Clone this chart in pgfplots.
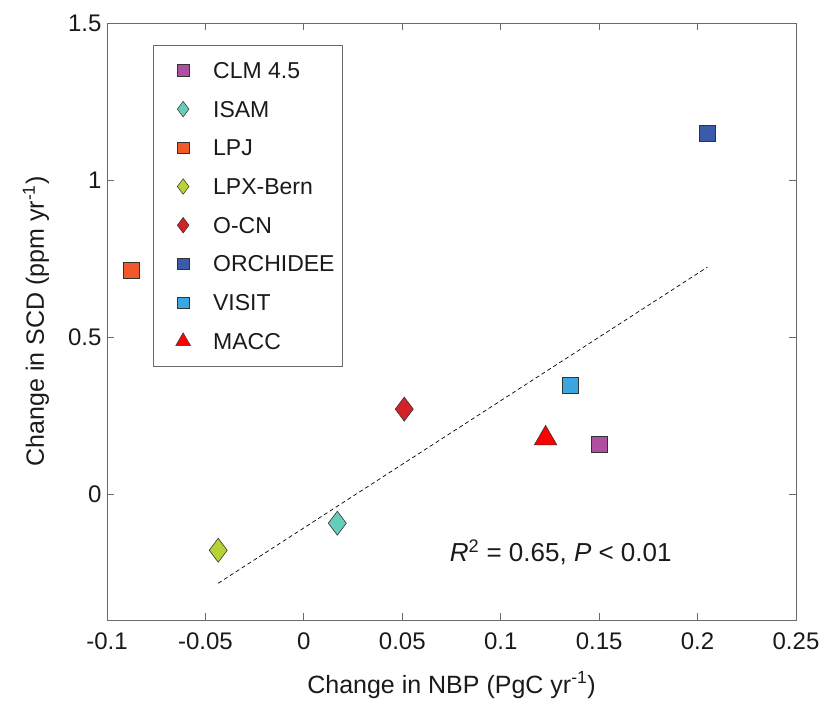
\documentclass[border=0pt]{standalone}
\usepackage{fontspec}
\setmainfont{Liberation Sans}
\usepackage{pgfplots}
\pgfplotsset{compat=1.18}
\definecolor{axisgray}{HTML}{6A6A6A}
\definecolor{txt}{HTML}{1A1A1A}
\definecolor{cclm}{HTML}{B04FA0}
\definecolor{cisam}{HTML}{66CDB8}
\definecolor{clpj}{HTML}{F05A28}
\definecolor{clpx}{HTML}{B5D334}
\definecolor{cocn}{HTML}{D42027}
\definecolor{corch}{HTML}{3A5BA9}
\definecolor{cvisit}{HTML}{3BA7DE}
\definecolor{cmacc}{HTML}{FF0000}
\definecolor{edge}{HTML}{333333}
\begin{document}
\begin{tikzpicture}
\useasboundingbox (-107pt,-91pt) rectangle (715pt,620pt);
\begin{axis}[
  scale only axis, width=689pt, height=597pt,
  at={(0pt,0pt)}, anchor=south west,
  xmin=-0.1, xmax=0.25, ymin=-0.4, ymax=1.5,
  xtick={-0.1,-0.05,0,0.05,0.1,0.15,0.2,0.25},
  ytick={0,0.5,1,1.5},
  scaled x ticks=false, scaled y ticks=false,
  xticklabels={-0.1,-0.05,0,0.05,0.1,0.15,0.2,0.25},
  yticklabels={0,0.5,1,1.5},
  tick align=inside, major tick length=7pt,
  axis line style={draw=axisgray, line width=0.8pt},
  every tick/.style={draw=axisgray, line width=0.8pt},
  tick label style={font=\fontsize{24}{28}\selectfont, text=txt},
  xticklabel style={yshift=-9pt},
  yticklabel style={xshift=-2pt},
  /pgf/number format/assume math mode=true,
  label style={font=\fontsize{25}{29}\selectfont, text=txt},
  xlabel={Change in NBP (PgC yr\textsuperscript{-1})},
  ylabel={Change in SCD (ppm yr\textsuperscript{-1})},
  xlabel style={at={(axis description cs:0.5,-0.1090)}, anchor=center},
  ylabel style={at={(axis description cs:-0.1030,0.5)}, anchor=center},
  legend style={at={(axis description cs:0.0664,0.9631)}, anchor=north west,
    draw=axisgray, line width=0.8pt, fill=white,
    font=\fontsize{23}{27}\selectfont, text=txt,
    nodes={inner sep=0pt, text height=20pt, text depth=4pt},
    row sep=14.7pt, column sep=8pt, inner xsep=8pt, inner ysep=13pt},
  legend cell align=left,
  legend image code/.code={\path[draw=none,fill=none] (0pt,0pt) -- (44pt,0pt); \draw[#1] plot coordinates {(22pt,0pt)};},
]
% regression line
\addplot[black, line width=0.7pt, dash pattern=on 4pt off 3pt, forget plot]
  coordinates {(-0.0435,-0.283) (0.205,0.723)};
% data
\addplot[only marks, mark=square*, mark size=8pt, mark options={fill=cclm, draw=edge, line width=0.6pt}, forget plot]
  coordinates {(0.150,0.159)};
\addplot[only marks, mark=diamond*, mark size=12pt, mark options={fill=cisam, draw=edge, line width=0.6pt}, forget plot]
  coordinates {(0.017,-0.092)};
\addplot[only marks, mark=square*, mark size=8pt, mark options={fill=clpj, draw=edge, line width=0.6pt}, forget plot]
  coordinates {(-0.0878,0.713)};
\addplot[only marks, mark=diamond*, mark size=12pt, mark options={fill=clpx, draw=edge, line width=0.6pt}, forget plot]
  coordinates {(-0.0435,-0.178)};
\addplot[only marks, mark=diamond*, mark size=12pt, mark options={fill=cocn, draw=edge, line width=0.6pt}, forget plot]
  coordinates {(0.051,0.271)};
\addplot[only marks, mark=square*, mark size=8pt, mark options={fill=corch, draw=edge, line width=0.6pt}, forget plot]
  coordinates {(0.205,1.150)};
\addplot[only marks, mark=square*, mark size=8pt, mark options={fill=cvisit, draw=edge, line width=0.6pt}, forget plot]
  coordinates {(0.1355,0.347)};
\addplot[only marks, mark=triangle*, mark size=13pt, mark options={fill=cmacc, draw=edge, line width=0.6pt}, forget plot]
  coordinates {(0.1228,0.178)};
% legend
\addlegendimage{only marks, mark=square*, mark size=5.7pt, mark options={fill=cclm, draw=edge, line width=0.5pt}}
\addlegendentry{CLM 4.5}
\addlegendimage{only marks, mark=diamond*, mark size=7.8pt, mark options={fill=cisam, draw=edge, line width=0.5pt}}
\addlegendentry{ISAM}
\addlegendimage{only marks, mark=square*, mark size=5.7pt, mark options={fill=clpj, draw=edge, line width=0.5pt}}
\addlegendentry{LPJ}
\addlegendimage{only marks, mark=diamond*, mark size=7.8pt, mark options={fill=clpx, draw=edge, line width=0.5pt}}
\addlegendentry{LPX-Bern}
\addlegendimage{only marks, mark=diamond*, mark size=7.8pt, mark options={fill=cocn, draw=edge, line width=0.5pt}}
\addlegendentry{O-CN}
\addlegendimage{only marks, mark=square*, mark size=5.7pt, mark options={fill=corch, draw=edge, line width=0.5pt}}
\addlegendentry{ORCHIDEE}
\addlegendimage{only marks, mark=square*, mark size=5.7pt, mark options={fill=cvisit, draw=edge, line width=0.5pt}}
\addlegendentry{VISIT}
\addlegendimage{only marks, mark=triangle*, mark size=8.5pt, mark options={fill=cmacc, draw=edge, line width=0.5pt}}
\addlegendentry{MACC}
\node[font=\fontsize{26}{30}\selectfont, text=txt, anchor=center] at (axis cs:0.1305,-0.185)
  {\textit{R}\textsuperscript{2} = 0.65, \textit{P} < 0.01};
\end{axis}
\end{tikzpicture}
\end{document}
